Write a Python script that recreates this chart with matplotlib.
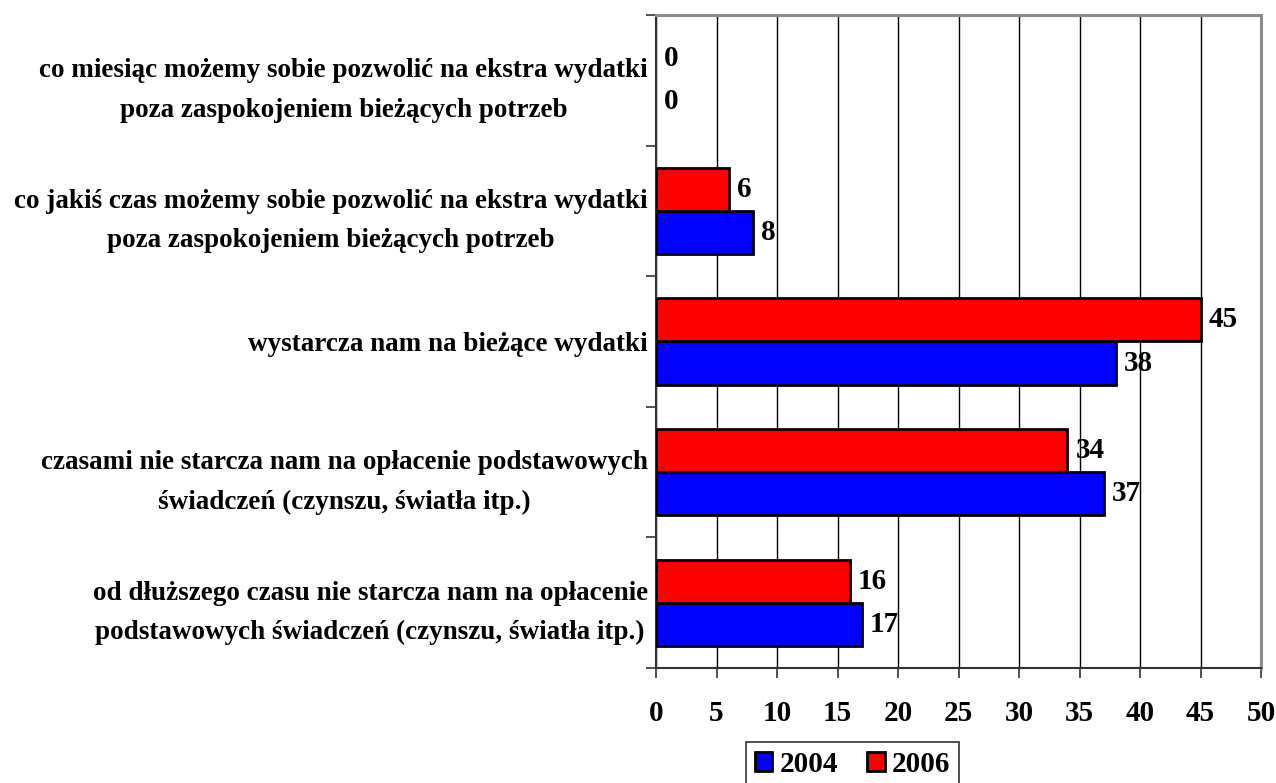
import matplotlib
matplotlib.use("Agg")
import matplotlib.pyplot as plt
from matplotlib.patches import Patch
import numpy as np

categories = [
    "co miesiąc możemy sobie pozwolić na ekstra wydatki\npoza zaspokojeniem bieżących potrzeb",
    "co jakiś czas możemy sobie pozwolić na ekstra wydatki\npoza zaspokojeniem bieżących potrzeb",
    "wystarcza nam na bieżące wydatki",
    "czasami nie starcza nam na opłacenie podstawowych\nświadczeń (czynszu, światła itp.)",
    "od dłuższego czasu nie starcza nam na opłacenie\npodstawowych świadczeń (czynszu, światła itp.)",
]
values_2004 = [0, 8, 38, 37, 17]
values_2006 = [0, 6, 45, 34, 16]
series_names = ["2004", "2006"]
xticks = [0, 5, 10, 15, 20, 25, 30, 35, 40, 45, 50]

plt.rcParams['font.family'] = ['Liberation Serif', 'DejaVu Serif']
plt.rcParams['font.weight'] = 'bold'

fig = plt.figure(figsize=(12.76, 7.83), dpi=100)
ax = fig.add_axes([656/1276, 1-668/783, (1261-656)/1276, (668-15)/783])

y = np.arange(len(categories))
h = 0.33
ec04 = ['black' if v > 0 else 'none' for v in values_2004]
ec06 = ['black' if v > 0 else 'none' for v in values_2006]
ax.barh(y + h/2, values_2004, height=h, color='#0000ff', edgecolor=ec04, linewidth=2, zorder=3)
ax.barh(y - h/2, values_2006, height=h, color='#ff0000', edgecolor=ec06, linewidth=2, zorder=3)

fs = 21
for yi, v in zip(y + h/2, values_2004):
    ax.annotate(str(v), (v, yi), xytext=(6, 0), textcoords='offset points',
                ha='left', va='center', fontsize=fs, fontweight='bold', zorder=4)
for yi, v in zip(y - h/2, values_2006):
    ax.annotate(str(v), (v, yi), xytext=(6, 0), textcoords='offset points',
                ha='left', va='center', fontsize=fs, fontweight='bold', zorder=4)

ax.set_xlim(0, 50)
ax.set_ylim(len(categories) - 0.5, -0.5)
ax.set_xticks(xticks)
ax.set_xticklabels([str(t) for t in xticks], fontsize=fs, fontweight='bold')
ax.tick_params(axis='x', direction='out', length=7, width=1.2, pad=16, color='#333333')

ax.set_yticks(y)
ax.set_yticklabels(categories, fontsize=19.5, fontweight='bold', linespacing=1.75)
for lbl in ax.get_yticklabels():
    lbl.set_multialignment('center')
ax.tick_params(axis='y', which='major', length=0, pad=6)
ax.set_yticks(np.arange(-0.5, len(categories)), minor=True)
ax.tick_params(axis='y', which='minor', direction='out', length=7, width=1.2, color='#333333')

ax.grid(axis='x', color='black', linewidth=1, zorder=0)
ax.set_axisbelow(True)

for s in ['top', 'right']:
    ax.spines[s].set_color('#8c8c8c')
    ax.spines[s].set_linewidth(2.2)
for s in ['left', 'bottom']:
    ax.spines[s].set_color('#333333')
    ax.spines[s].set_linewidth(1.5)

handles = [Patch(facecolor='#0000ff', edgecolor='black', linewidth=2),
           Patch(facecolor='#ff0000', edgecolor='black', linewidth=2)]
leg = fig.legend(handles, series_names, loc='upper left',
                 bbox_to_anchor=(746/1276, 1-742/783), ncol=2,
                 prop={'size': fs, 'weight': 'bold'}, frameon=True, fancybox=False,
                 handlelength=0.6, handleheight=0.6, handletextpad=0.25,
                 columnspacing=1.0, borderpad=0.3, borderaxespad=0)
leg.get_frame().set_edgecolor('black')
leg.get_frame().set_linewidth(1.2)

fig.savefig('out.png', dpi=100)
